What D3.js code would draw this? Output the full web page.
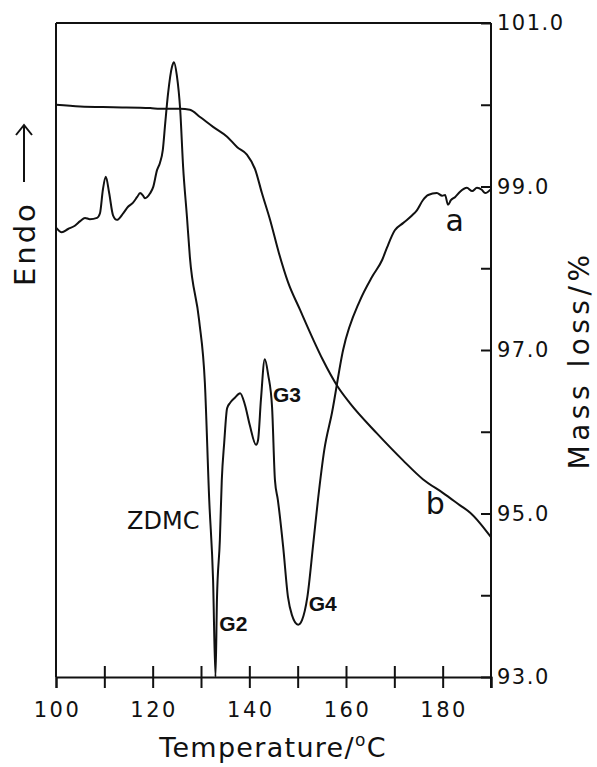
<!DOCTYPE html>
<html>
<head>
<meta charset="utf-8">
<script src="https://cdn.jsdelivr.net/npm/d3@7"></script>
<style>
  body { margin: 0; background: #fff; }
  svg text { font-family: "DejaVu Sans", sans-serif; fill: #111; }
</style>
</head>
<body>
<div id="chart"></div>
<script>
// curve a: DSC signal (arbitrary units, no scale on left axis)
var dscTemp = [100.0, 101.2, 102.5, 103.9, 105.0, 106.0, 107.0, 108.5, 109.1, 109.7, 110.3, 111.0, 111.8, 112.6,
    113.9, 114.9, 115.9, 116.8, 117.4, 118.0, 118.4, 119.5, 120.1, 120.9, 121.5, 122.1, 122.6, 123.2, 124.0,
    124.4, 125.0, 125.7, 126.3, 127.1, 127.7, 129.6, 130.8, 131.7, 132.5, 133.0, 133.3, 133.9, 134.3, 134.8,
    135.4, 136.0, 137.0, 138.1, 139.1, 140.1, 141.4, 141.8, 142.4, 143.2, 143.9, 144.7, 145.3, 145.9, 147.0,
    148.0, 148.8, 150.1, 150.9, 152.0, 153.2, 154.2, 155.5, 157.1, 159.4, 162.9, 165.4, 167.5, 168.5, 170.1,
    171.8, 173.7, 174.7, 175.9, 177.0, 178.8, 179.9, 180.5, 181.1, 181.7, 182.6, 183.6, 185.0, 186.1, 187.1,
    188.1, 188.8, 190.0];
var dscSignal = [68.7, 68.0, 68.5, 69.0, 69.7, 70.2, 70.0, 70.2, 70.9, 74.5, 76.5, 74.0, 70.6, 69.9,
    70.9, 71.9, 72.5, 73.4, 74.0, 73.6, 73.2, 74.0, 74.9, 77.5, 78.6, 80.6, 84.7, 89.3, 93.3,
    94.0, 92.0, 86.7, 78.0, 70.3, 64.2, 54.6, 45.0, 27.1, 14.8, 0.0, 11.8, 20.9, 30.1, 35.8,
    41.1, 41.9, 42.7, 43.4, 41.6, 38.5, 35.5, 36.2, 42.4, 48.6, 46.2, 41.3, 30.1, 27.1, 19.9,
    12.2, 9.5, 8.0, 8.7, 12.2, 20.2, 27.1, 34.7, 40.4, 50.0, 57.6, 61.2, 63.8, 65.7, 68.3,
    69.4, 70.6, 71.4, 72.9, 73.7, 74.0, 73.6, 73.7, 72.2, 72.9, 73.4, 74.2, 74.8, 74.3, 74.8,
    74.5, 74.0, 74.6];

// curve b: TG mass (%)
var tgTemp = [100.0, 105.0, 111.8, 119.5, 121.5, 125.7, 127.7, 129.8, 132.5, 135.4, 137.5, 139.5, 141.2,
    142.6, 144.3, 146.1, 148.0, 150.5, 153.2, 155.2, 158.3, 160.8, 166.4, 171.8, 175.9, 180.1, 183.6,
    185.7, 190.0];
var tgMass = [100.00, 99.98, 99.97, 99.96, 99.95, 99.95, 99.94, 99.85, 99.73, 99.61, 99.48, 99.39, 99.21,
    98.92, 98.59, 98.19, 97.83, 97.49, 97.13, 96.88, 96.55, 96.35, 95.98, 95.65, 95.42, 95.25, 95.10,
    95.01, 94.71];

var tempTicks = [100, 110, 120, 130, 140, 150, 160, 170, 180, 190];
var massTicks = [93, 94, 95, 96, 97, 98, 99, 100, 101];

var labels = [
    {text: "a", t: 180.6, v: 68.2, cls: "big"},
    {text: "b", t: 176.5, m: 95.0, cls: "big"},
    {text: "ZDMC", t: 114.7, v: 22.6, cls: "name"},
    {text: "G2", t: 133.8, v: 7.1, cls: "peak"},
    {text: "G3", t: 144.9, v: 42.0, cls: "peak"},
    {text: "G4", t: 152.3, v: 10.1, cls: "peak"}
];

var width = 597, height = 767;
var plot = {left: 56, right: 491, top: 23, bottom: 677};

var svg = d3.select("#chart").append("svg")
    .attr("width", width)
    .attr("height", height);

var x = d3.scaleLinear().domain([100, 190]).range([plot.left, plot.right]);
var yDsc = d3.scaleLinear().domain([0, 100]).range([plot.bottom, plot.top]);
var yMass = d3.scaleLinear().domain([93, 101]).range([plot.bottom, plot.top]);

// frame: left and top lines
svg.append("line")
    .attr("x1", plot.left).attr("x2", plot.left)
    .attr("y1", plot.top).attr("y2", plot.bottom)
    .attr("stroke", "#111").attr("stroke-width", 2);
svg.append("line")
    .attr("x1", plot.left).attr("x2", plot.right)
    .attr("y1", plot.top).attr("y2", plot.top)
    .attr("stroke", "#111").attr("stroke-width", 2);

// bottom axis, ticks crossing the line
var xAxis = svg.append("g")
    .attr("transform", "translate(0," + plot.bottom + ")")
    .call(d3.axisBottom(x).tickValues(tempTicks).tickSize(11).tickPadding(14)
        .tickFormat(function (d) { return (d % 20 === 0 && d < 190) ? d : ""; }));
svg.append("g")
    .attr("transform", "translate(0," + plot.bottom + ")")
    .call(d3.axisTop(x).tickValues(tempTicks.slice(1, -1)).tickSize(11).tickFormat(""))
    .select(".domain").remove();

// right axis, ticks inward
var yAxis = svg.append("g")
    .attr("transform", "translate(" + plot.right + ",0)")
    .call(d3.axisRight(yMass).tickValues(massTicks).tickSize(-10).tickPadding(6)
        .tickFormat(function (d) { return d % 2 === 1 ? d3.format(".1f")(d) : ""; }));
yAxis.select(".domain").attr("d", "M0," + plot.top + "V" + (plot.bottom + 11));

svg.selectAll(".tick line, .domain").attr("stroke", "#111").attr("stroke-width", 2);
svg.selectAll(".tick text")
    .style("font-size", "21px")
    .style("letter-spacing", "2.5px")
    .attr("fill", "#111");
xAxis.selectAll(".tick text").attr("dy", "0.71em").attr("dx", "1px");
yAxis.selectAll(".tick text").style("letter-spacing", "1.5px");

// curves
var dscLine = d3.line()
    .x(function (d, i) { return x(dscTemp[i]); })
    .y(function (d) { return yDsc(d); })
    .curve(d3.curveMonotoneX);
var tgLine = d3.line()
    .x(function (d, i) { return x(tgTemp[i]); })
    .y(function (d) { return yMass(d); })
    .curve(d3.curveMonotoneX);

svg.append("path")
    .attr("d", dscLine(dscSignal))
    .attr("fill", "none")
    .attr("stroke", "#111")
    .attr("stroke-width", 2)
    .attr("stroke-linejoin", "round");
svg.append("path")
    .attr("d", tgLine(tgMass))
    .attr("fill", "none")
    .attr("stroke", "#111")
    .attr("stroke-width", 2)
    .attr("stroke-linejoin", "round");

// curve labels
svg.selectAll(".note")
    .data(labels).enter()
    .append("text")
    .attr("class", "note")
    .attr("x", function (d) { return x(d.t); })
    .attr("y", function (d) { return d.m !== undefined ? yMass(d.m) : yDsc(d.v); })
    .style("font-size", function (d) { return d.cls === "big" ? "30px" : d.cls === "name" ? "24px" : "21px"; })
    .style("font-weight", function (d) { return d.cls === "peak" ? "bold" : "normal"; })
    .style("font-family", function (d) { return d.cls === "peak" ? "'Liberation Sans', Arial, sans-serif" : null; })
    .text(function (d) { return d.text; });

// axis titles
var xTitle = svg.append("text")
    .attr("x", 273)
    .attr("y", 757)
    .attr("text-anchor", "middle")
    .style("font-size", "27px")
    .style("letter-spacing", "1.3px");
xTitle.append("tspan").text("Temperature/");
xTitle.append("tspan").attr("dy", "-11").style("font-size", "17px").text("o");
xTitle.append("tspan").attr("dy", "11").text("C");

svg.append("text")
    .attr("transform", "translate(589,360) rotate(-90)")
    .attr("text-anchor", "middle")
    .style("font-size", "28px")
    .style("letter-spacing", "4.5px")
    .text("Mass loss/%");

var endo = svg.append("g").attr("transform", "translate(35,286) rotate(-90)");
endo.append("text")
    .attr("x", 0).attr("y", 0)
    .style("font-size", "29px")
    .style("letter-spacing", "3px")
    .text("Endo");
endo.append("line")
    .attr("x1", 104).attr("x2", 161)
    .attr("y1", -11).attr("y2", -11)
    .attr("stroke", "#111").attr("stroke-width", 2);
endo.append("path")
    .attr("d", "M151,-19L161,-11L151,-3")
    .attr("fill", "none")
    .attr("stroke", "#111").attr("stroke-width", 2);
</script>
</body>
</html>
